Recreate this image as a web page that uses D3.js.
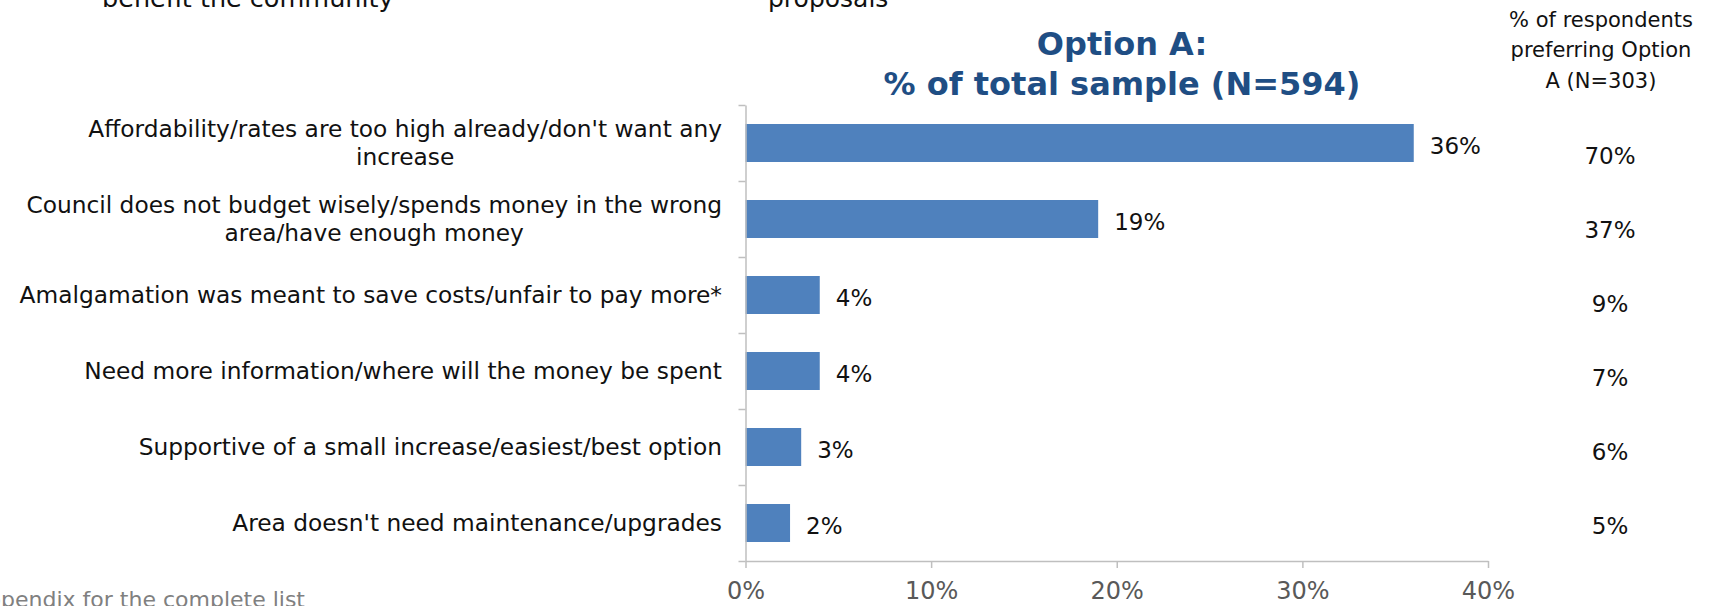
<!DOCTYPE html>
<html>
<head>
<meta charset="utf-8">
<script src="https://cdn.jsdelivr.net/npm/d3@7"></script>
<style>
  html, body { margin: 0; padding: 0; background: #fff; }
  svg { display: block; }
  text { font-family: "DejaVu Sans", sans-serif; }
</style>
</head>
<body>
<svg id="chart" width="1720" height="606"></svg>
<script>
// Reasons for choosing Option A (line breaks mark where a label wraps)
const categories = [
  "Affordability/rates are too high already/don't want any\nincrease",
  "Council does not budget wisely/spends money in the wrong\narea/have enough money",
  "Amalgamation was meant to save costs/unfair to pay more*",
  "Need more information/where will the money be spent",
  "Supportive of a small increase/easiest/best option",
  "Area doesn't need maintenance/upgrades"
];
// Share of the total sample (N=594)
const totalSample = [0.36, 0.19, 0.04, 0.04, 0.03, 0.024];
// Share of respondents preferring Option A (N=303)
const preferringA = [0.70, 0.37, 0.09, 0.07, 0.06, 0.05];
const xTicks = [0, 0.1, 0.2, 0.3, 0.4];
const titleLines = ["Option A:", "% of total sample (N=594)"];
const sideHeader = ["% of respondents", "preferring Option", "A (N=303)"];

const svg = d3.select("#chart");
const pct = d3.format(".0%");

const plot = { left: 745.5, right: 1488, top: 105, bottom: 561 };

const x = d3.scaleLinear().domain([0, 0.4]).range([plot.left, plot.right]);
const y = d3.scaleBand().domain(categories).range([plot.top, plot.bottom])
  .paddingInner(0.5).paddingOuter(0.25);
const yCell = d3.scaleLinear().domain([0, categories.length]).range([plot.top, plot.bottom]);
const yMid = c => y(c) + y.bandwidth() / 2;

// continuation text from the surrounding page
svg.append("text").attr("x", 102).attr("y", 6.5)
  .attr("font-size", 25.5).attr("fill", "#111").text("benefit the community");
svg.append("text").attr("x", 768).attr("y", 6.5)
  .attr("font-size", 25).attr("fill", "#111").text("proposals");
svg.append("text").attr("x", 305).attr("y", 607).attr("text-anchor", "end")
  .attr("font-size", 22).attr("fill", "#808080").text("See appendix for the complete list");

// title
svg.append("g").selectAll("text").data(titleLines).join("text")
  .attr("x", 1122).attr("y", (d, i) => 55 + i * 40)
  .attr("text-anchor", "middle").attr("font-size", 32).attr("font-weight", "bold")
  .attr("fill", "#1F4E84").text(d => d);

// bars
svg.append("g").selectAll("rect").data(categories).join("rect")
  .attr("x", x(0)).attr("y", d => y(d))
  .attr("width", (d, i) => x(totalSample[i]) - x(0))
  .attr("height", y.bandwidth())
  .attr("fill", "#4F81BD");

// x axis
const xAxis = svg.append("g").attr("transform", `translate(0,${plot.bottom})`)
  .call(d3.axisBottom(x).tickValues(xTicks).tickFormat(pct).tickSize(7).tickSizeOuter(0).tickPadding(14));
xAxis.select(".domain").attr("stroke", "#BFBFBF").attr("stroke-width", 1.5);
xAxis.selectAll(".tick line").attr("stroke", "#BFBFBF").attr("stroke-width", 1.5);
xAxis.selectAll(".tick text").attr("font-size", 24).attr("fill", "#595959")
  .attr("font-family", "DejaVu Sans");

// y axis: ticks between categories
const yAxis = svg.append("g").attr("transform", `translate(${plot.left},0)`)
  .call(d3.axisLeft(yCell).ticks(categories.length).tickFormat("").tickSize(7).tickSizeOuter(0));
yAxis.select(".domain").attr("stroke", "#BFBFBF").attr("stroke-width", 1.5);
yAxis.selectAll(".tick line").attr("stroke", "#BFBFBF").attr("stroke-width", 1.5);

// category labels, wrapped lines centred within a right-aligned block
const lineH = 28.5;
const labelRight = 722;
svg.append("g").selectAll("text").data(categories).join("text")
  .attr("font-size", 23.3).attr("fill", "#111")
  .each(function (d) {
    const lines = d.split("\n");
    const t = d3.select(this);
    const spans = lines.map((ln, i) => t.append("tspan")
      .attr("y", yMid(d) + 8 + (i - (lines.length - 1) / 2) * lineH).text(ln));
    const w = d3.max(spans, s => s.node().getComputedTextLength());
    t.attr("text-anchor", "middle");
    spans.forEach(s => s.attr("x", labelRight - w / 2));
  });

// value labels
svg.append("g").selectAll("text").data(categories).join("text")
  .attr("x", (d, i) => x(totalSample[i]) + 16)
  .attr("y", d => yMid(d) + 11)
  .attr("font-size", 23).attr("fill", "#111")
  .text((d, i) => pct(totalSample[i]));

// side column: share of respondents preferring Option A
svg.append("g").selectAll("text").data(sideHeader).join("text")
  .attr("x", 1601).attr("y", (d, i) => 26.5 + i * 30.5)
  .attr("text-anchor", "middle").attr("font-size", 21).attr("fill", "#111")
  .text(d => d);

const ySide = d3.scalePoint().domain(categories).range([164, 534]);
svg.append("g").selectAll("text").data(categories).join("text")
  .attr("x", 1610).attr("y", d => ySide(d))
  .attr("text-anchor", "middle").attr("font-size", 23).attr("fill", "#111")
  .text((d, i) => pct(preferringA[i]));
</script>
</body>
</html>
